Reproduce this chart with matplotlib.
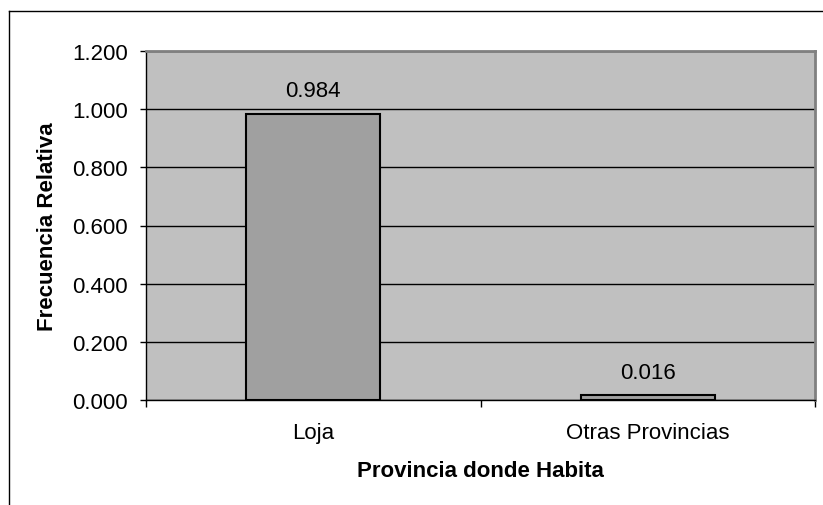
import matplotlib
matplotlib.use('Agg')
import matplotlib.pyplot as plt
from matplotlib.lines import Line2D
import numpy as np

plt.rcParams['font.family'] = ['Liberation Sans', 'DejaVu Sans']

categories = ['Loja', 'Otras Provincias']
values = [0.984, 0.016]
value_labels = ['0.984', '0.016']
y_ticks = [0.0, 0.2, 0.4, 0.6, 0.8, 1.0, 1.2]
y_tick_labels = ['0.000', '0.200', '0.400', '0.600', '0.800', '1.000', '1.200']

W, H = 823, 506
fig = plt.figure(figsize=(W / 100, H / 100), dpi=100)
fig.patch.set_facecolor('white')

# outer chart frame (left and top edges only visible)
fx = 8.5 / W
fy = 1 - 11.5 / H
fig.add_artist(Line2D([fx, fx], [0, fy], transform=fig.transFigure, color='black', lw=1))
fig.add_artist(Line2D([fx, 1], [fy, fy], transform=fig.transFigure, color='black', lw=1))

left, right, top, bottom = 146, 815, 52, 401
ax = fig.add_axes([left / W, 1 - bottom / H, (right - left) / W, (bottom - top) / H])
ax.set_facecolor('#C0C0C0')

x = np.arange(len(categories))
ax.bar(x, values, width=0.4, color='#A0A0A0', edgecolor='black', linewidth=1.5, zorder=3)

for xi, v, lab in zip(x, values, value_labels):
    ax.annotate(lab, (xi, v), xytext=(0, 9), textcoords='offset points',
                ha='center', va='bottom', fontsize=16)

ax.set_xlim(-0.5, len(categories) - 0.5)
ax.set_ylim(0, 1.2)
ax.set_yticks(y_ticks)
ax.set_yticklabels(y_tick_labels, fontsize=16)
ax.yaxis.grid(True, color='black', linewidth=1)
ax.set_axisbelow(True)
ax.tick_params(axis='y', direction='out', length=4, width=1, pad=9)

# category boundaries as major ticks, labels on minor ticks
ax.set_xticks(np.arange(-0.5, len(categories), 1.0))
ax.set_xticklabels([])
ax.set_xticks(x, minor=True)
ax.set_xticklabels(categories, minor=True, fontsize=16)
ax.tick_params(axis='x', which='major', direction='out', length=5, width=1)
ax.tick_params(axis='x', which='minor', length=0, pad=16)

for s in ['top', 'right']:
    ax.spines[s].set_color('#808080')
    ax.spines[s].set_linewidth(2)
for s in ['left', 'bottom']:
    ax.spines[s].set_color('black')
    ax.spines[s].set_linewidth(1)

ax.set_xlabel('Provincia donde Habita', fontsize=16, fontweight='bold', labelpad=12)
ax.set_ylabel('Frecuencia Relativa', fontsize=16, fontweight='bold', labelpad=10)

fig.savefig('out.png', dpi=100)
